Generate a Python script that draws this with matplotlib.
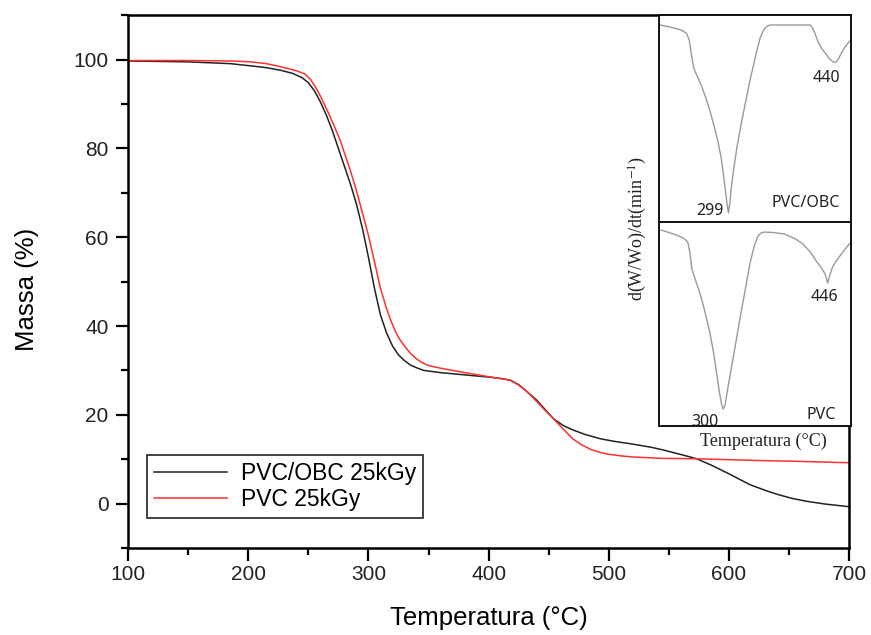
import matplotlib
matplotlib.use("Agg")
import matplotlib.pyplot as plt
from matplotlib.ticker import MultipleLocator

# ---- main TGA data ----
t_obc = [100, 150, 185, 202, 215, 227, 237, 245, 250, 255, 260, 265, 270, 275, 280, 285, 290,
         295, 300, 305, 310, 315, 320, 325, 330, 335, 340, 346, 360, 380, 400, 410, 418, 425,
         432, 440, 447, 454, 462, 470, 480, 493, 505, 520, 535, 545, 555, 565, 573, 585, 600,
         610, 618, 630, 640, 652, 665, 680, 690, 700]
m_obc = [99.7, 99.5, 99.1, 98.6, 98.2, 97.6, 96.9, 95.9, 94.8, 93.0, 90.5, 87.5, 84.0, 80.0,
         76.0, 72.0, 67.5, 62.0, 55.5, 48.5, 42.5, 38.5, 35.5, 33.5, 32.2, 31.2, 30.6, 30.0,
         29.5, 29.0, 28.5, 28.2, 27.8, 26.8, 25.2, 23.3, 21.2, 19.1, 17.6, 16.6, 15.6, 14.6,
         14.0, 13.4, 12.7, 12.1, 11.4, 10.7, 10.1, 8.7, 6.7, 5.3, 4.2, 3.0, 2.1, 1.2, 0.5,
         -0.1, -0.4, -0.7]

t_pvc = [100, 150, 185, 202, 215, 227, 240, 247, 252, 256, 260, 265, 270, 276, 280, 285, 290,
         295, 300, 305, 310, 315, 318, 322, 326, 330, 335, 340, 345, 350, 360, 370, 393, 418,
         425, 432, 440, 447, 454, 462, 470, 477, 485, 493, 500, 510, 520, 543, 573, 618, 660, 700]
m_pvc = [99.8, 99.8, 99.7, 99.5, 99.1, 98.4, 97.5, 96.8, 95.5, 93.8, 91.8, 89.0, 86.0, 82.2,
         79.0, 75.0, 70.5, 65.5, 60.4, 54.5, 48.5, 44.0, 41.7, 39.0, 37.0, 35.5, 33.8, 32.6,
         31.7, 31.1, 30.5, 30.0, 28.9, 27.8, 26.7, 25.2, 23.0, 21.0, 19.1, 16.8, 14.6, 13.3,
         12.2, 11.5, 11.1, 10.75, 10.5, 10.2, 10.1, 9.75, 9.5, 9.2]

# ---- inset DTG data (arbitrary units) ----
ti_obc = [206, 220, 235, 242, 246, 249, 252, 256, 262, 268, 274, 280, 285, 289, 292, 295, 297,
          299, 301, 303, 306, 310, 316, 322, 328, 334, 338, 342, 346, 350, 355, 410, 413, 416,
          420, 425, 430, 436, 441, 445, 448, 452, 457, 461, 465]
di_obc = [0.0, -0.02, -0.05, -0.08, -0.15, -0.30, -0.43, -0.50, -0.60, -0.72, -0.86, -1.02,
          -1.17, -1.32, -1.48, -1.66, -1.78, -1.88, -1.78, -1.62, -1.45, -1.25, -1.00, -0.78,
          -0.56, -0.37, -0.24, -0.13, -0.06, -0.02, 0.0, 0.0, -0.03, -0.08, -0.16, -0.23,
          -0.28, -0.34, -0.37, -0.37, -0.34, -0.28, -0.22, -0.18, -0.15]

ti_pvc = [208, 225, 238, 244, 247, 249.5, 254, 260, 267, 274, 279, 283, 287, 290, 292, 294.5,
          298, 303, 309, 315, 321, 328, 334, 339, 343, 347, 360, 375, 390, 400, 410, 418, 425,
          430, 433.5, 436, 440, 445, 450, 457, 464]
di_pvc = [0.01, -0.03, -0.07, -0.11, -0.22, -0.38, -0.48, -0.61, -0.80, -1.02, -1.22, -1.42,
          -1.62, -1.74, -1.78, -1.74, -1.58, -1.37, -1.12, -0.86, -0.62, -0.33, -0.15, -0.05,
          -0.02, -0.01, -0.015, -0.03, -0.08, -0.13, -0.21, -0.30, -0.37, -0.43, -0.52, -0.45,
          -0.36, -0.30, -0.25, -0.18, -0.12]

xticks = [100, 200, 300, 400, 500, 600, 700]
yticks = [0, 20, 40, 60, 80, 100]

plt.rcParams["mathtext.fontset"] = "stix"

fig = plt.figure(figsize=(8.71, 6.35), dpi=100)
ax = fig.add_axes([0.147, 0.137, 0.828, 0.839])

ax.plot(t_obc, m_obc, color="#222222", lw=1.1, label="PVC/OBC 25kGy")
ax.plot(t_pvc, m_pvc, color="#ff3030", lw=1.1, label="PVC 25kGy")

ax.set_xlim(100, 700)
ax.set_ylim(-10, 110)
ax.set_xticks(xticks)
ax.set_yticks(yticks)
ax.xaxis.set_minor_locator(MultipleLocator(50))
ax.yaxis.set_minor_locator(MultipleLocator(10))
ax.tick_params(which="major", direction="out", length=9, width=1.6, labelsize=15,
               labelcolor="#222222")
ax.tick_params(which="minor", direction="out", length=5, width=1.6)
ax.tick_params(axis="y", pad=5)
ax.tick_params(axis="x", pad=3)
for s in ax.spines.values():
    s.set_linewidth(1.8)

lab_font = dict(family="Liberation Sans", fontsize=18.5)
ax.set_xlabel("Temperatura (°C)", **lab_font)
ax.set_ylabel("Massa (%)", **lab_font)
ax.xaxis.set_label_coords(0.5, -0.108)
ax.yaxis.set_label_coords(-0.123, 0.486)
for lbl in ax.get_xticklabels() + ax.get_yticklabels():
    lbl.set_family("Liberation Sans")

leg = ax.legend(loc="lower left", bbox_to_anchor=(0.026, 0.056), borderaxespad=0,
                prop={"family": "Liberation Sans", "size": 16.5}, fancybox=False,
                framealpha=1, edgecolor="#222222", handlelength=3.2, handletextpad=0.6,
                borderpad=0.3, labelspacing=0.15)
leg.get_frame().set_linewidth(1.2)

# ---- inset panels ----
ins_font = dict(family="Noto Sans", fontsize=11.5, color="#222222")
xl = (205, 465)

ax1 = fig.add_axes([0.7566, 0.6509, 0.2204, 0.3255])
ax1.plot(ti_obc, di_obc, color="#9a9a9a", lw=1.0)
ax1.set_xlim(*xl)
ax1.set_ylim(-1.967, 0.10)
ax1.text(432, -0.53, "440", ha="center", va="center", **ins_font)
ax1.text(274, -1.857, "299", ha="center", va="center", **ins_font)
ax1.text(403, -1.78, "PVC/OBC", ha="center", va="center", **ins_font)

ax2 = fig.add_axes([0.7566, 0.3291, 0.2204, 0.3217])
ax2.plot(ti_pvc, di_pvc, color="#9a9a9a", lw=1.0)
ax2.set_xlim(*xl)
ax2.set_ylim(-1.95, 0.093)
ax2.text(428.6, -0.657, "446", ha="center", va="center", **ins_font)
ax2.text(267, -1.907, "300", ha="center", va="center", zorder=1, clip_on=False, **ins_font)
ax2.text(424, -1.84, "PVC", ha="center", va="center", **ins_font)

for a in (ax1, ax2):
    a.set_xticks([])
    a.set_yticks([])
    a.set_facecolor("white")
    for s in a.spines.values():
        s.set_linewidth(1.4)
        s.set_color("#111111")

fig.text(0.7325, 0.641, r"d(W/Wo)/dt(min$^{-1}$)", rotation=90, ha="center", va="center",
         family="Liberation Serif", fontsize=13, color="#222222")
fig.text(0.8764, 0.3044, "Temperatura (°C)", ha="center", va="center",
         family="Liberation Serif", fontsize=13, color="#222222")

fig.savefig("out.png", dpi=100)
